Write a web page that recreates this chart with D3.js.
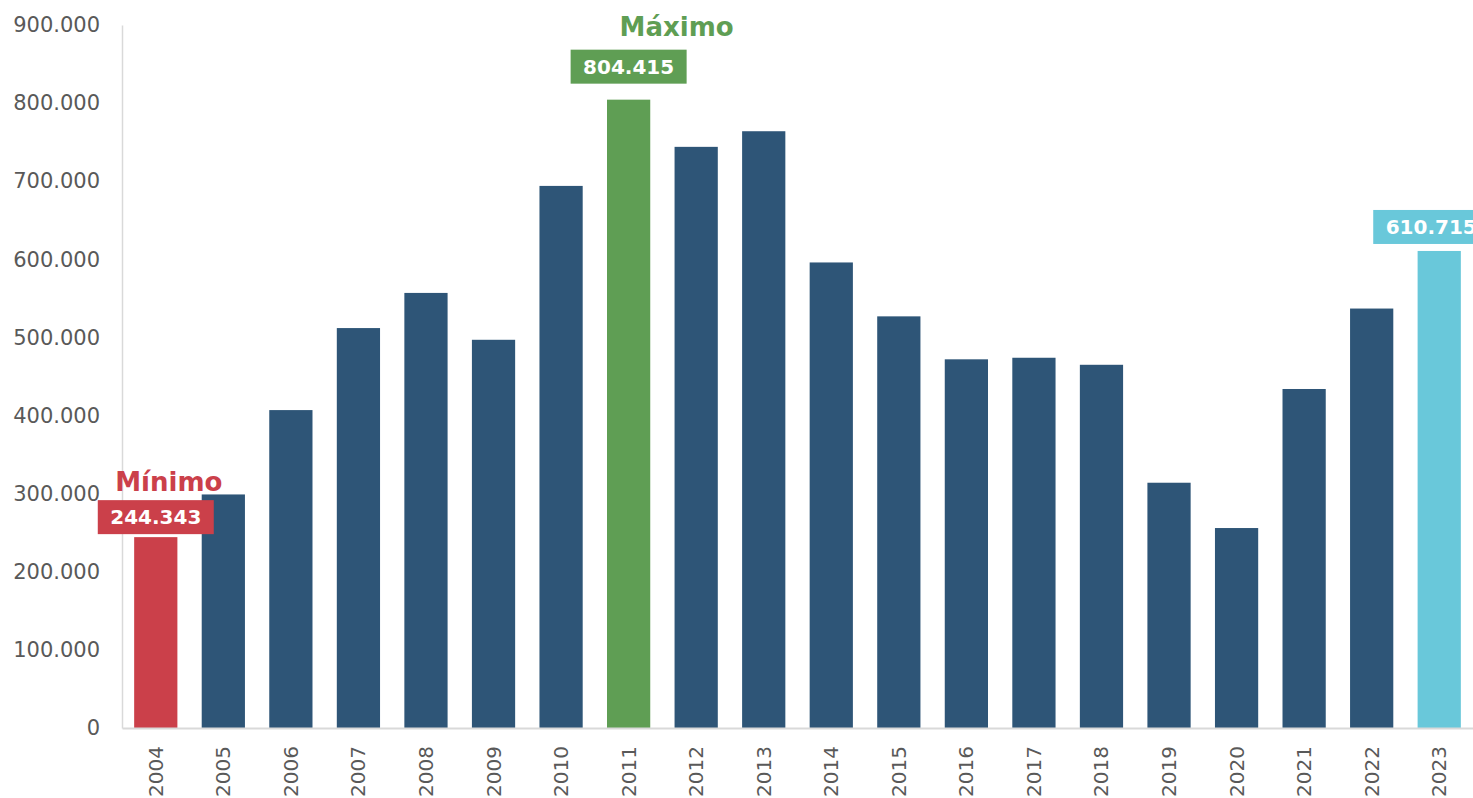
<!DOCTYPE html>
<html>
<head>
<meta charset="utf-8">
<script src="https://cdn.jsdelivr.net/npm/d3@7"></script>
<style>
  html, body { margin: 0; padding: 0; background: #fff; }
  svg { display: block; }
</style>
</head>
<body>
<svg id="chart" width="1473" height="798"></svg>
<script>
// ---- data ----
const years = ["2004","2005","2006","2007","2008","2009","2010","2011","2012","2013",
               "2014","2015","2016","2017","2018","2019","2020","2021","2022","2023"];
const values = [244343, 299000, 407000, 512000, 557000, 497000, 694000, 804415, 744000, 764000,
                596000, 527000, 472000, 474000, 465000, 314000, 256000, 434000, 537000, 610715];
const yTicks = [0, 100000, 200000, 300000, 400000, 500000, 600000, 700000, 800000, 900000];
const minYear = "2004", maxYear = "2011", lastYear = "2023";
const titleMin = "Mínimo", titleMax = "Máximo";

// ---- layout ----
const W = 1473, H = 798;
const m = { left: 122, right: 0, top: 25, bottom: 70 };
const svg = d3.select("#chart");
const fmt = v => v === 0 ? "0" : d3.format(",.0f")(v).replace(/,/g, ".");
const FONT = "DejaVu Sans, Verdana, sans-serif";

const x = d3.scaleBand().domain(years).range([m.left, W - m.right]).paddingInner(0.36).paddingOuter(0.18);
const y = d3.scaleLinear().domain([0, 900000]).range([H - m.bottom, m.top]);

const colDefault = "#2e5577", colMin = "#cb404a", colMax = "#5f9e54", colLast = "#69c8da";
const colorOf = yr => yr === minYear ? colMin : yr === maxYear ? colMax : yr === lastYear ? colLast : colDefault;

// bars
svg.append("g").selectAll("rect").data(years).join("rect")
  .attr("x", d => x(d))
  .attr("width", x.bandwidth())
  .attr("y", (d, i) => y(values[i]))
  .attr("height", (d, i) => y(0) - y(values[i]))
  .attr("fill", d => colorOf(d));

// axes
const yAxis = d3.axisLeft(y).tickValues(yTicks).tickFormat(fmt).tickSize(0).tickPadding(22);
const gy = svg.append("g").attr("transform", `translate(${m.left},0)`).call(yAxis);
gy.select(".domain").attr("stroke", "#d9d9d9").attr("stroke-width", 1.5);
gy.selectAll("text").attr("fill", "#595959").style("font-family", FONT).style("font-size", "21px");

const xAxis = d3.axisBottom(x).tickSize(0).tickPadding(0);
const gx = svg.append("g").attr("transform", `translate(0,${y(0)})`).call(xAxis);
gx.select(".domain").attr("stroke", "#d9d9d9").attr("stroke-width", 2);
gx.selectAll("text")
  .attr("fill", "#595959")
  .style("font-family", FONT).style("font-size", "20px")
  .attr("transform", "rotate(-90)")
  .attr("text-anchor", "end")
  .attr("x", -18).attr("y", 0).attr("dy", "0.35em");

// annotations
const notes = [
  { year: minYear, title: titleMin, bg: colMin, boxGap: 37, dx: 0, titleDx: 13, titleGap: 9 },
  { year: maxYear, title: titleMax, bg: colMax, boxGap: 50, dx: 0, titleDx: 48, titleGap: 14 },
  { year: lastYear, title: null, bg: colLast, boxGap: 41, dx: -8, titleDx: 0, titleGap: 0 }
];
const boxW = 116, boxH = 34;
notes.forEach(n => {
  const i = years.indexOf(n.year);
  const cx = x(n.year) + x.bandwidth() / 2 + n.dx;
  const top = y(values[i]) - n.boxGap;
  const g = svg.append("g");
  g.append("rect").attr("x", cx - boxW / 2).attr("y", top).attr("width", boxW).attr("height", boxH).attr("fill", n.bg);
  g.append("text").attr("x", cx).attr("y", top + boxH / 2).attr("dy", "0.36em")
    .attr("text-anchor", "middle").attr("fill", "#fff")
    .style("font-family", FONT).style("font-size", "20px").style("font-weight", "bold")
    .text(fmt(values[i]));
  if (n.title) {
    svg.append("text").attr("x", x(n.year) + x.bandwidth() / 2 + n.titleDx).attr("y", top - n.titleGap)
      .attr("text-anchor", "middle").attr("fill", n.bg)
      .style("font-family", FONT).style("font-size", "26px").style("font-weight", "bold")
      .text(n.title);
  }
});
</script>
</body>
</html>
